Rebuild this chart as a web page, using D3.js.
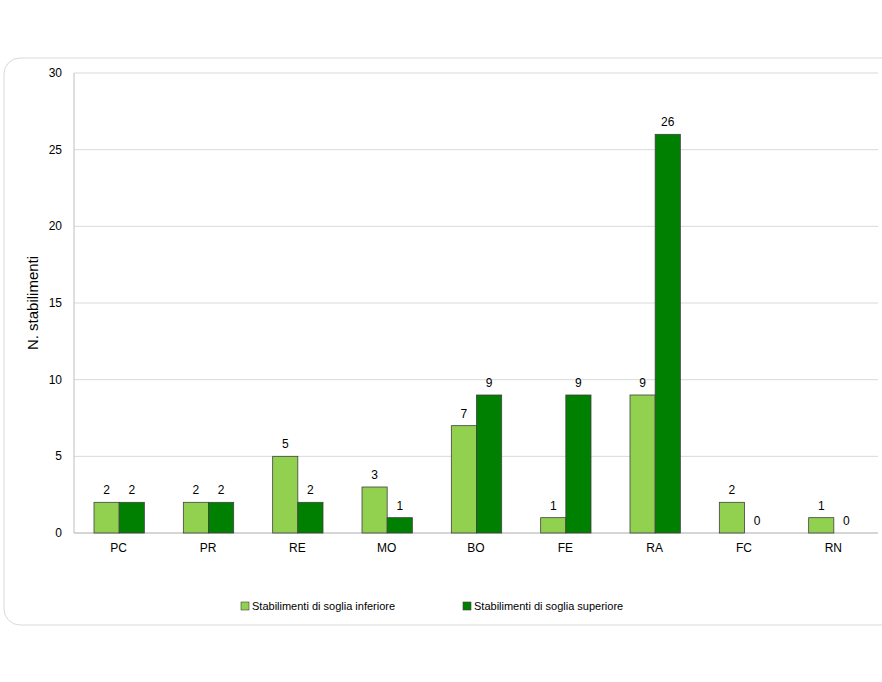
<!DOCTYPE html>
<html><head><meta charset="utf-8">
<script src="https://cdn.jsdelivr.net/npm/d3@7"></script>
<style>body{margin:0;background:#fff;font-family:Arial,"Liberation Sans",sans-serif}</style>
</head><body><svg id="c" width="882" height="682"></svg>
<script>
const provinces = ['PC','PR','RE','MO','BO','FE','RA','FC','RN'];
const inferiore = [2,2,5,3,7,1,9,2,1];
const superiore = [2,2,2,1,9,9,26,0,0];
const seriesNames = ['Stabilimenti di soglia inferiore','Stabilimenti di soglia superiore'];
const colors = ['#92d050','#008000'];

const svg = d3.select('#c');
svg.append('rect').attr('x',4).attr('y',58).attr('width',900).attr('height',567)
    .attr('rx',16).attr('fill','#fff').attr('stroke','#d9d9d9');

const plotL = 74, plotR = 878, plotT = 73, plotB = 533;
const x = d3.scaleBand().domain(provinces).range([plotL, plotR]);
const y = d3.scaleLinear().domain([0,30]).range([plotB, plotT]);
const sub = d3.scaleBand().domain([0,1]).range([20, x.bandwidth()-19]);

// grid
svg.append('g').selectAll('line').data(y.ticks(6)).enter().append('line')
    .attr('x1', plotL).attr('x2', plotR).attr('y1', d => y(d)).attr('y2', d => y(d))
    .attr('stroke', '#d9d9d9');
svg.append('line').attr('x1',plotL).attr('x2',plotL).attr('y1',plotT).attr('y2',plotB).attr('stroke','#bfbfbf');
svg.append('line').attr('x1',plotL).attr('x2',plotR).attr('y1',plotB).attr('y2',plotB).attr('stroke','#bfbfbf');

svg.append('g').selectAll('text').data(y.ticks(6)).enter().append('text')
    .attr('x', plotL - 12).attr('y', d => y(d) + 4).attr('text-anchor','end')
    .attr('font-size', 12).text(d => d);

svg.append('g').selectAll('text').data(provinces).enter().append('text')
    .attr('x', d => x(d) + x.bandwidth()/2).attr('y', plotB + 19).attr('text-anchor','middle')
    .attr('font-size', 12).text(d => d);

svg.append('text').attr('transform', `translate(38,${(plotT+plotB)/2}) rotate(-90)`)
    .attr('text-anchor','middle').attr('font-size',15).text('N. stabilimenti');

[inferiore, superiore].forEach((vals, s) => {
    const g = svg.append('g');
    g.selectAll('rect').data(provinces).enter().append('rect')
        .attr('x', d => x(d) + sub(s)).attr('width', sub.bandwidth())
        .attr('y', (d,i) => y(vals[i])).attr('height', (d,i) => plotB - y(vals[i]))
        .attr('fill', colors[s]).attr('stroke', '#404040').attr('stroke-width', 0.8);
    g.selectAll('text').data(provinces).enter().append('text')
        .attr('x', d => x(d) + sub(s) + sub.bandwidth()/2)
        .attr('y', (d,i) => y(vals[i]) - 8).attr('text-anchor','middle')
        .attr('font-size', 12).text((d,i) => vals[i]);
});

// legend
const lx = [241, 463];
seriesNames.forEach((n, i) => {
    svg.append('rect').attr('x', lx[i]).attr('y', 602).attr('width', 8).attr('height', 8)
        .attr('fill', colors[i]).attr('stroke','#404040').attr('stroke-width',0.6);
    svg.append('text').attr('x', lx[i] + 11).attr('y', 610).attr('font-size', 11).text(n);
});
</script></body></html>
